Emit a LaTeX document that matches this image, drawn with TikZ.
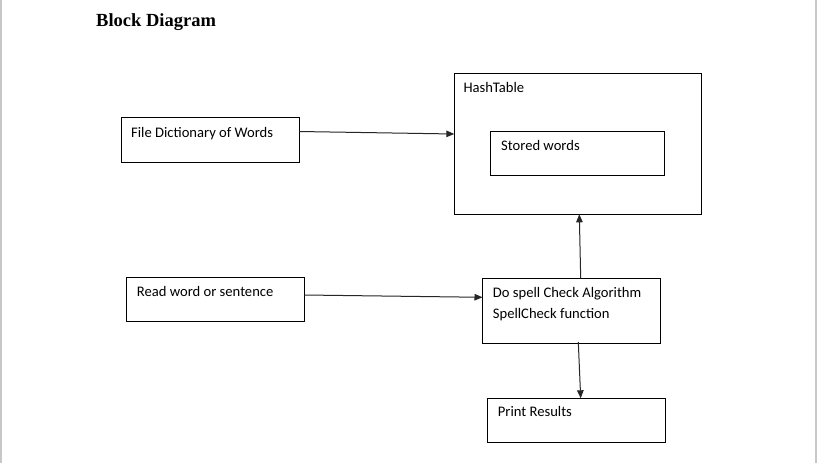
\documentclass[tikz,border=0pt]{standalone}
\usepackage{fontspec}
\setmainfont{Carlito}
\newfontfamily\titlefont{Liberation Serif}
\usetikzlibrary{arrows.meta}
\begin{document}
\begin{tikzpicture}[x=1pt,y=-1pt,
  blk/.style={draw=black,line width=1pt},
  txt/.style={anchor=base west,inner sep=0pt,font=\fontsize{14.6}{17}\selectfont},
  conn/.style={draw=black!85,line width=1pt,-{Triangle[length=8pt,width=6.5pt]}},
  edge/.style={draw=black!22,line width=2pt}]
\useasboundingbox (0,0) rectangle (817,463);
\fill[white] (0,0) rectangle (817,463);
\draw[edge] (0.5,0) -- (0.5,463);
\draw[edge] (815.7,0) -- (815.7,463);
% title
\node[anchor=base west,inner sep=0pt,font=\titlefont\bfseries\fontsize{18.5}{22}\selectfont] (title) at (96,26) {Block Diagram};
% boxes
\draw[blk] (121,117) rectangle (299,162);
\coordinate (fileR) at (299,131.5);
\node[txt] (filet) at (131,137) {File Dictionary of Words};
\draw[blk] (454.3,73.3) rectangle (701.7,214.3);
\coordinate (hashL) at (454.3,134);
\coordinate (hashB) at (579.3,214.3);
\node[txt] (hasht) at (463.3,92) {HashTable};
\draw[blk] (490,131) rectangle (664.7,175.7);
\node[txt] (storedt) at (501,150) {Stored words};
\draw[blk] (126.7,277.7) rectangle (304.3,321.3);
\coordinate (readR) at (304.3,295);
\node[txt] (readt) at (136.7,296) {Read word or sentence};
\draw[blk] (482.5,278.3) rectangle (660.7,343.3);
\coordinate (spellL) at (482.5,297.3);
\coordinate (spellT) at (580.7,278.3);
\coordinate (spellB) at (578.3,342);
\node[txt] (spellt1) at (492.7,297) {Do spell Check Algorithm};
\node[txt] (spellt2) at (492.7,318.3) {SpellCheck function};
\draw[blk] (487.3,398.3) rectangle (665.7,442.3);
\coordinate (printT) at (580.7,398.3);
\node[txt] (printt) at (497.7,416.5) {Print Results};
% connectors
\draw[conn] (fileR) -- (hashL);
\draw[conn] (readR) -- (spellL);
\draw[conn] (spellT) -- (hashB);
\draw[conn] (spellB) -- (printT);
\end{tikzpicture}
\end{document}
